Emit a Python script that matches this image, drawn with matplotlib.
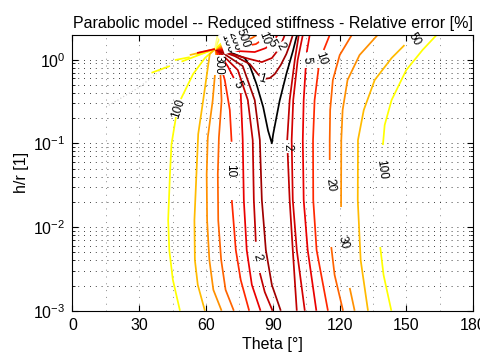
import numpy as np
import matplotlib.pyplot as plt
from matplotlib.ticker import MultipleLocator, LogLocator, NullFormatter

plt.rcParams['font.family'] = ['Liberation Sans', 'DejaVu Sans']
plt.rcParams['mathtext.default'] = 'regular'

# colour of each contour level (MATLAB "hot"-like)
level_colors = {
    0.5: '#000000', 1: '#a00000', 2: '#c00000', 3: '#d40000', 5: '#ea0000',
    10: '#ff2800', 20: '#ff6400', 30: '#ff9000', 50: '#ffbb00',
    100: '#ffff00', 200: '#ffff50', 500: '#ffff90',
}

# contour pieces: (level, theta [deg], log10(h/r))
left_curves = [
    (100, [64.0, 59.5, 54.2, 48.7], [0.127, 0.019, -0.172, -0.471]),
    (100, [46.5, 44.5, 43.8, 43.0, 43.5, 45.1, 48.3], [-0.686, -1.008, -1.367, -1.916, -2.275, -2.63, -3.0]),
    (50, [64.0, 61.7, 58.7, 56.5, 55.7, 54.8, 55.0, 56.3, 59.5], [0.127, 0.067, -0.491, -0.889, -1.367, -1.916, -2.394, -2.69, -3.0]),
    (30, [64.2, 64.7, 63.0, 60.8, 60.3, 60.5, 61.5, 63.3, 67.0], [0.127, 0.027, -0.49, -0.93, -1.37, -1.92, -2.39, -2.75, -3.0]),
    (20, [64.3, 66.2, 67.0, 65.8, 65.3, 65.5, 66.8, 68.8, 72.5], [0.127, 0.007, -0.49, -0.93, -1.37, -1.92, -2.39, -2.75, -3.0]),
    (10, [64.5, 68.45, 70.7, 71.5], [0.127, -0.244, -0.602, -0.981]),
    (10, [71.6, 73.4, 75.6, 79.4], [-1.678, -2.275, -2.632, -3.0]),
    (5, [64.6, 69.8, 72.5], [0.127, -0.08, -0.22]),
    (5, [75.6, 76.5, 77.0, 78.3, 80.6, 84.5], [-0.40, -0.96, -1.68, -2.275, -2.69, -3.0]),
    (2, [64.7, 74.3, 78.8, 81.0, 81.5, 82.4], [0.127, -0.124, -0.483, -0.961, -1.678, -2.176]),
    (2, [84.2, 86.4, 89.9], [-2.549, -2.776, -3.0]),
    (1, [64.8, 76.5, 81.9, 84.2, 85.1, 86.9, 89.6, 93.6], [0.127, -0.076, -0.483, -0.961, -1.678, -2.275, -2.692, -3.0]),
]

right_curves = [
    (2, [101.7, 99.9, 97.6, 96.5], [0.294, -0.005, -0.483, -0.961]),
    (2, [96.7, 97.6, 99.0, 100.8], [-1.116, -1.678, -2.275, -3.0]),
    (3, [103.5, 101.2, 99.2, 98.5, 99.0, 100.8, 104.4], [0.294, -0.005, -0.483, -0.961, -1.678, -2.275, -3.0]),
    (5, [106.6, 105.3], [0.294, 0.091]),
    (5, [104.8, 103.9, 103.5, 103.9, 105.7, 109.6], [-0.100, -0.483, -0.961, -1.678, -2.275, -3.0]),
    (10, [115.6, 112.9], [0.294, 0.115]),
    (10, [110.6, 108.8, 108.1, 108.2, 109.7, 114.8], [-0.100, -0.483, -0.961, -1.678, -2.275, -3.0]),
    (20, [125.5, 120.1, 117.0, 115.8, 115.6, 115.6], [0.294, 0.055, -0.244, -0.602, -0.961, -1.199]),
    (20, [116.3, 117.8, 121.6], [-2.239, -2.573, -3.0]),
    (30, [137.1, 129.0, 123.6, 121.4, 120.8, 120.7], [0.294, 0.055, -0.244, -0.602, -0.961, -1.761]),
    (30, [124.6, 126.8], [-2.728, -3.0]),
    (50, [149.2, 143.4, 135.8, 130.9, 128.3, 128.2, 129.5, 132.8], [0.174, 0.019, -0.244, -0.602, -0.961, -1.678, -2.394, -3.0]),
    (100, [163.6, 157.3, 150.0, 143.4, 140.3, 139.5], [0.294, 0.115, -0.124, -0.483, -0.781, -1.020]),
    (100, [138.3, 139.8, 143.3], [-2.239, -2.573, -3.0]),
]

# curves leaving the singular point near theta=64, h/r=1.3
top_curves = [
    (0.5, [64.0, 71.6, 77.4, 79.7, 82.7, 85.7, 87.9, 89.6, 90.2, 93.1, 96.1, 99.1, 100.6, 101.0],
          [0.127, 0.079, 0.019, -0.076, -0.292, -0.566, -0.849, -1.0, -0.889, -0.491, -0.172, 0.106, 0.267, 0.294]),
    (1, [64.0, 72.9, 79.7, 83.3, 85.7, 88.7, 90.9, 93.6, 96.1, 97.6, 99.0],
        [0.127, 0.043, -0.053, -0.172, -0.232, -0.220, -0.172, -0.064, 0.067, 0.174, 0.294]),
    (2, [64.0, 71.6, 79.7, 85.1, 89.6, 93.1, 95.4], [0.127, 0.067, 0.007, -0.029, 0.019, 0.139, 0.294]),
    (5, [64.0, 74.3, 81.9, 86.9, 90.5, 92.2], [0.127, 0.103, 0.091, 0.139, 0.234, 0.294]),
    (10, [64.0, 75.2, 82.4, 86.4, 87.8], [0.127, 0.151, 0.186, 0.258, 0.294]),
    (20, [64.0, 75.2, 80.6, 82.8], [0.127, 0.198, 0.258, 0.294]),
    (30, [64.0, 72.9, 77.4], [0.127, 0.234, 0.294]),
    (50, [64.0, 70.7, 74.3], [0.127, 0.234, 0.294]),
    (100, [64.0, 68.45, 70.7], [0.127, 0.234, 0.294]),
    (200, [64.0, 66.7], [0.127, 0.294]),
    (500, [64.0, 65.2], [0.127, 0.294]),
    (100, [35.5, 43.8], [-0.157, -0.076]),
    (100, [49.0, 64.0], [-0.023, 0.127]),
    (100, [46.0, 52.7], [-0.005, 0.03]),
    (100, [55.5, 64.0], [0.05, 0.127]),
    (50, [52.7, 64.0], [0.055, 0.127]),
    (5, [56.0, 64.0], [0.08, 0.127]),
]

# very light contour on the left
faint_theta = [43.8, 30.0, 15.4]
faint_logh = [-0.04, -0.33, -0.56]

# inline labels sitting in line gaps: text, theta, log10(h/r), angle
gap_text = ['100', '10', '5', '2', '2', '5', '10', '20', '30', '100', '50']
gap_theta = [47.6, 70.9, 74.0, 83.2, 96.6, 105.1, 111.8, 115.7, 121.6, 138.9, 153.7]
gap_logh = [-0.58, -1.33, -0.30, -2.36, -1.04, -0.005, 0.01, -1.50, -2.19, -1.31, 0.24]
gap_rot = [72, -90, -65, -75, -88, -85, -72, -82, -75, -82, -60]

# labels crowded round the singular point
crowd_text = ['1', '2', '5', '10', '300', '100', '200', '500']
crowd_theta = [85.3, 93.5, 89.5, 86.2, 65.6, 69.5, 73.0, 76.6]
crowd_logh = [-0.225, 0.16, 0.20, 0.255, -0.06, 0.20, 0.22, 0.25]
crowd_rot = [-15, -60, -60, -70, -90, -70, -70, -70]

fig = plt.figure(figsize=(4.81, 3.61), dpi=100)
ax = fig.add_axes([0.1507, 0.1393, 0.8327, 0.7637])

ax.plot(faint_theta, 10 ** np.array(faint_logh), color='#c8c8c8', lw=0.8, ls=(0, (1, 2)))
for lvl, th, lh in left_curves + right_curves + top_curves:
    ax.plot(th, 10 ** np.array(lh), color=level_colors[lvl], lw=1.25, solid_capstyle='butt')

for t, x, y, r in zip(gap_text, gap_theta, gap_logh, gap_rot):
    ax.text(x, 10 ** y, t, rotation=r, fontsize=8.5, ha='center', va='center')
for t, x, y, r in zip(crowd_text, crowd_theta, crowd_logh, crowd_rot):
    ax.text(x, 10 ** y, t, rotation=r, fontsize=8.5, ha='center', va='center',
            bbox=dict(facecolor='white', edgecolor='none', pad=0.1))

ax.set_yscale('log')
ax.set_xlim(0, 180)
ax.set_ylim(1e-3, 1.97)
ax.xaxis.set_major_locator(MultipleLocator(30))
ax.xaxis.set_minor_locator(MultipleLocator(15))
ax.yaxis.set_major_locator(LogLocator(base=10))
ax.yaxis.set_minor_locator(LogLocator(base=10, subs=np.arange(2, 10)))
ax.yaxis.set_minor_formatter(NullFormatter())

ax.grid(True, which='both', axis='x', color='0.55', ls=(0, (1, 6)), lw=0.7)
ax.grid(True, which='both', axis='y', color='black', ls=(0, (1, 6)), lw=0.6)
ax.tick_params(which='both', direction='in', top=True, right=True, labelsize=11.5, pad=5)
ax.tick_params(which='major', length=4)
ax.tick_params(which='minor', length=2)
ax.tick_params(axis='x', which='minor', length=0)
for s in ax.spines.values():
    s.set_linewidth(0.8)

ax.set_title('Parabolic model -- Reduced stiffness - Relative error [%]', fontsize=11.5, pad=5)
ax.set_xlabel('Theta [°]', fontsize=11.5, labelpad=3)
ax.set_ylabel('h/r [1]', fontsize=11.5, labelpad=3)

fig.savefig('out.png', dpi=100)
